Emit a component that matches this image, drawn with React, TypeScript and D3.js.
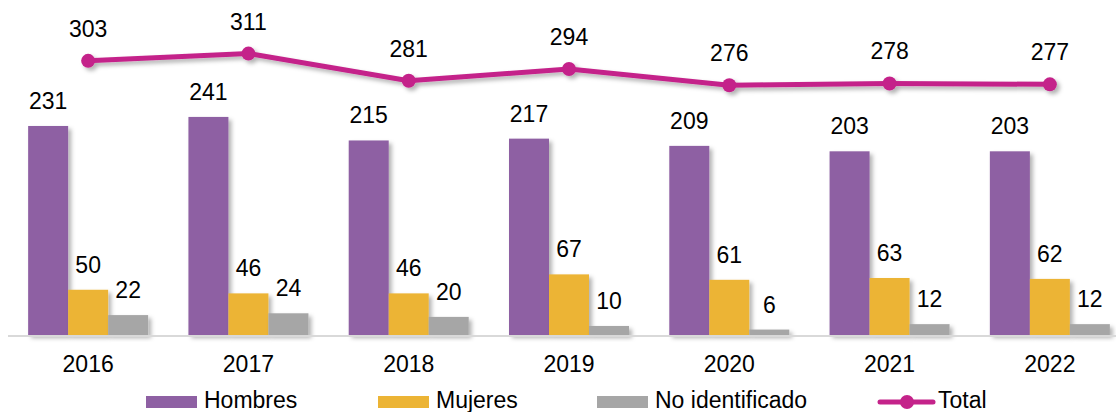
import React from 'react';
import * as d3 from 'd3';

const years = ['2016', '2017', '2018', '2019', '2020', '2021', '2022'];
const hombres = [231, 241, 215, 217, 209, 203, 203];
const mujeres = [50, 46, 46, 67, 61, 63, 62];
const noIdentificado = [22, 24, 20, 10, 6, 12, 12];
const total = [303, 311, 281, 294, 276, 278, 277];

const seriesNames = ['Hombres', 'Mujeres', 'No identificado'];
const seriesColors = ['#8e60a3', '#ecb435', '#a6a6a6'];
const lineColor = '#c4238a';

const W = 1116;
const H = 412;
const FONT = "'Liberation Sans', Arial, sans-serif";
const FS = 23;

export default function App() {
  const x = d3.scaleBand<string>().domain(years).range([8, 1130]).padding(0);
  const bw = x.bandwidth();
  const sub = d3.scaleBand<string>().domain(seriesNames).range([bw / 2 - 60, bw / 2 + 60]).padding(0);
  const y = d3.scaleLinear().domain([0, 350]).range([335, 18.3]);

  const series = [hombres, mujeres, noIdentificado];

  const line = d3.line<number>()
    .x((d, i) => (x(years[i]) as number) + bw / 2)
    .y(d => y(d));

  const legendItems = [
    { name: 'Hombres', x: 146, color: seriesColors[0] },
    { name: 'Mujeres', x: 378, color: seriesColors[1] },
    { name: 'No identificado', x: 597, color: seriesColors[2] },
  ];

  return (
    <svg width={W} height={H} style={{ position: 'absolute', left: 0, top: 0, background: '#fff' }} fontFamily={FONT}>
      <defs>
        <filter id="shadow" x="-20%" y="-20%" width="150%" height="150%">
          <feDropShadow dx="3" dy="3" stdDeviation="2" floodColor="#000" floodOpacity="0.3" />
        </filter>
      </defs>

      {/* bars */}
      {series.map((vals, si) => (
        <g key={seriesNames[si]} filter="url(#shadow)">
          {vals.map((v, i) => (
            <rect
              key={years[i]}
              x={(x(years[i]) as number) + (sub(seriesNames[si]) as number)}
              y={y(v)}
              width={sub.bandwidth()}
              height={y(0) - y(v)}
              fill={seriesColors[si]}
            />
          ))}
        </g>
      ))}

      {/* axis baseline */}
      <line x1={8} x2={W} y1={y(0) + 1} y2={y(0) + 1} stroke="#d9d9d9" strokeWidth={2} />

      {/* bar labels */}
      {series.map((vals, si) =>
        vals.map((v, i) => (
          <text
            key={`${si}-${i}`}
            x={(x(years[i]) as number) + (sub(seriesNames[si]) as number) + sub.bandwidth() / 2}
            y={y(v) - 17}
            textAnchor="middle"
            fontSize={FS}
            fill="#000"
          >
            {v}
          </text>
        ))
      )}

      {/* total line */}
      <g filter="url(#shadow)">
        <path d={line(total) || ''} fill="none" stroke={lineColor} strokeWidth={5} strokeLinejoin="round" />
        {total.map((v, i) => (
          <circle key={years[i]} cx={(x(years[i]) as number) + bw / 2} cy={y(v)} r={7} fill={lineColor} />
        ))}
      </g>
      {total.map((v, i) => (
        <text
          key={years[i]}
          x={(x(years[i]) as number) + bw / 2}
          y={y(v) - 24}
          textAnchor="middle"
          fontSize={FS}
          fill="#000"
        >
          {v}
        </text>
      ))}

      {/* x tick labels */}
      {years.map(yr => (
        <text key={yr} x={(x(yr) as number) + bw / 2} y={372} textAnchor="middle" fontSize={FS} fill="#000">
          {yr}
        </text>
      ))}

      {/* legend */}
      {legendItems.map(it => (
        <g key={it.name}>
          <rect x={it.x} y={396} width={51} height={12} fill={it.color} />
          <text x={it.x + 58} y={408} fontSize={FS} fill="#000">{it.name}</text>
        </g>
      ))}
      <g>
        <line x1={880} x2={933} y1={402} y2={402} stroke={lineColor} strokeWidth={5} strokeLinecap="round" />
        <circle cx={907} cy={402} r={7} fill={lineColor} />
        <text x={938} y={408} fontSize={FS} fill="#000">Total</text>
      </g>
    </svg>
  );
}
